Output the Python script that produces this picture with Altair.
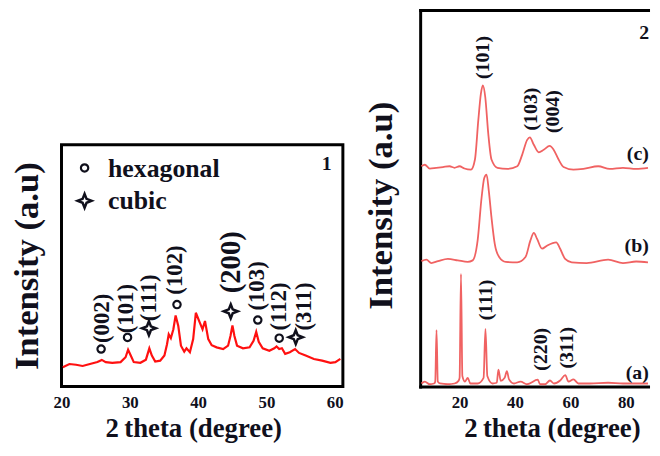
import altair as alt
import pandas as pd

FONT = "Liberation Serif"
INK = "#10101c"
RED1 = "#ff1010"
RED2 = "#f06262"
STAR = "M0,-1L0.28,-0.28L1,0L0.28,0.28L0,1L-0.28,0.28L-1,0L-0.28,-0.28Z"

# ---------------- panel 1 : XRD pattern ----------------
p1_theta = [20.19, 21.16, 22.13, 23.09, 24.30, 25.26, 25.90, 26.48, 27.43, 28.65,
            29.38, 29.75, 30.14, 30.58, 31.55, 32.36, 32.86, 33.23, 33.72, 34.45,
            35.07, 35.45, 35.70, 36.01, 36.38, 36.71, 37.10, 37.49, 37.97, 38.30,
            38.80, 39.28, 39.67, 40.25, 40.65, 41.01, 41.49, 41.99, 42.71, 43.67,
            44.39, 44.74, 45.03, 45.32, 45.70, 46.57, 47.54, 48.12, 48.51, 48.88,
            49.46, 50.43, 51.16, 51.49, 51.88, 52.27, 52.75, 53.43, 54.20, 54.78,
            55.75, 56.96, 58.16, 59.38, 60.10, 60.83]
p1_int = [8.0, 9.3, 9.0, 8.5, 9.4, 10.1, 11.0, 10.1, 9.8, 10.1,
          12.1, 15.2, 12.8, 10.1, 9.8, 11.1, 15.8, 12.8, 10.3, 10.7,
          12.8, 17.5, 21.6, 20.0, 23.7, 29.4, 25.0, 16.9, 14.4, 15.8,
          14.2, 19.6, 30.5, 26.4, 23.7, 27.1, 19.6, 17.1, 16.2, 15.5,
          16.9, 20.9, 25.3, 20.9, 16.9, 15.8, 16.2, 18.9, 22.6, 18.5,
          15.8, 14.8, 15.8, 16.6, 15.5, 15.8, 13.5, 14.2, 15.5, 13.9,
          12.8, 11.4, 10.7, 9.8, 10.1, 11.4]

p1_hkl = ["(002)", "(101)", "(111)", "(102)", "(200)", "(103)", "(112)", "(311)"]
p1_phase = ["hexagonal", "hexagonal", "cubic", "hexagonal", "cubic",
            "hexagonal", "hexagonal", "cubic"]
p1_mark_theta = [25.80, 29.67, 32.80, 36.91, 44.78, 48.74, 51.88, 54.30]
p1_mark_int = [15.5, 20.3, 24.1, 33.9, 31.1, 27.5, 20.0, 20.4]
p1_lab_theta = [25.87, 29.49, 32.83, 36.67, 44.78, 48.70, 51.88, 55.51]
p1_lab_int = [28.2, 32.2, 36.7, 48.2, 51.4, 41.6, 33.1, 33.1]

legend_phase = ["hexagonal", "cubic"]
legend_theta = [23.38, 23.38]
legend_int = [90.4, 76.8]
legend_text_theta = [26.81, 26.81]
legend_text_int = [89.9, 76.8]

panel_tags = ["1", "2"]
tag_theta = [58.84, 86.6]
tag_int = [92.2, 94.0]

# ---------------- panel 2 : three patterns ----------------
c_theta = [6.26, 7.47, 9.26, 11.62, 14.02, 16.41, 18.20, 19.99, 21.77, 24.13,
           25.56, 26.78, 27.71, 28.42, 29.28, 30.35, 31.53, 33.68, 37.25, 40.83,
           42.62, 44.41, 45.37, 46.80, 48.59, 50.38, 52.52, 53.95, 55.74, 57.53,
           61.10, 64.68, 70.04, 74.19, 78.98, 83.73, 88.0]
c_int = [58.5, 58.9, 57.9, 58.1, 58.3, 58.5, 58.1, 58.5, 57.9, 57.6,
         60.3, 70.8, 77.8, 80.0, 76.9, 67.3, 60.3, 58.1, 57.8, 58.5,
         61.6, 65.5, 66.2, 64.2, 62.2, 62.9, 63.9, 62.9, 60.3, 58.3,
         57.6, 57.8, 58.5, 57.8, 58.1, 57.8, 58.1]

b_theta = [6.26, 8.04, 9.83, 12.23, 15.80, 19.38, 22.95, 24.74, 26.53, 27.96,
           28.92, 29.75, 30.57, 31.53, 32.71, 34.29, 36.65, 40.83, 43.80, 45.58,
           46.80, 47.98, 49.77, 51.56, 54.88, 56.31, 58.10, 60.49, 65.86, 73.61,
           78.98, 83.73, 88.0]
b_int = [33.3, 33.7, 32.8, 33.3, 33.9, 33.5, 33.1, 33.5, 38.8, 50.2,
         55.4, 56.3, 51.9, 44.9, 37.9, 34.4, 33.1, 33.0, 34.4, 38.8,
         40.8, 39.2, 36.6, 37.4, 38.3, 36.6, 33.9, 33.0, 32.8, 33.7,
         32.8, 33.2, 33.0]

a_theta = [6.26, 7.47, 9.26, 10.80, 11.23, 11.69, 12.16, 12.94, 15.80, 18.20,
           19.63, 20.02, 20.52, 21.02, 21.99, 22.95, 23.92, 26.53, 28.67, 29.35,
           30.03, 31.89, 33.43, 34.04, 34.86, 36.29, 37.08, 37.86, 39.65, 42.01,
           44.40, 48.23, 49.05, 50.84, 52.63, 54.06, 56.31, 58.17, 59.31, 61.10,
           62.89, 67.04, 73.61, 78.98, 88.0]
a_int = [0.8, 1.3, 0.6, 0.8, 1.3, 15.0, 1.3, 0.8, 0.6, 0.8,
         1.5, 2.3, 29.9, 2.8, 1.3, 2.3, 0.8, 0.8, 2.3, 15.3,
         2.8, 0.8, 1.0, 4.5, 1.5, 2.3, 4.1, 1.9, 0.8, 1.3,
         0.6, 1.8, 0.6, 0.6, 1.6, 0.8, 1.6, 3.0, 1.3, 1.9,
         0.8, 0.8, 1.0, 0.8, 0.8]

p2_hkl = ["(101)", "(103)", "(004)", "(111)", "(220)", "(311)"]
p2_lab_theta = [28.42, 45.73, 53.77, 29.64, 49.30, 58.71]
p2_lab_int = [87.4, 73.7, 73.0, 23.0, 9.9, 10.3]
p2_series = ["(c)", "(b)", "(a)"]
p2_series_theta = [88.3, 88.3, 88.3]
p2_series_int = [61.8, 37.2, 3.5]

# ---------------- shared styling helpers ----------------
def tick_axis(values, title, title_x, **extra):
    return alt.Axis(values=values, format="d", labelFlush=False, labelOverlap=False,
                    labelFont=FONT, labelFontSize=17, labelFontWeight="bold",
                    labelColor=INK, labelPadding=8, ticks=False, tickSize=0,
                    grid=False, title=title, titleFont=FONT, titleFontSize=27,
                    titleFontWeight="bold", titleColor=INK, titlePadding=5,
                    titleX=title_x, **extra)

def int_axis(pad, **extra):
    return alt.Axis(labels=False, ticks=False, tickSize=0, grid=False,
                    title="Intensity (a.u)", titleFont=FONT, titleFontSize=35,
                    titleFontWeight="bold", titleColor=INK, titlePadding=pad, **extra)

# ---------------- panel 1 ----------------
x1_scale = alt.Scale(domain=[20, 61.2], nice=False, zero=False)
y1_scale = alt.Scale(domain=[0, 100], nice=False, zero=False)
X1 = alt.X("theta:Q", scale=x1_scale,
           axis=tick_axis([20, 30, 40, 50, 60], "2\u2009theta (degree)", 133, domain=False))
Y1 = alt.Y("intensity:Q", scale=y1_scale, axis=int_axis(17, domain=False))

df1 = pd.DataFrame({"theta": p1_theta, "intensity": p1_int})
dfm = pd.DataFrame({"theta": p1_mark_theta, "intensity": p1_mark_int,
                    "phase": p1_phase, "hkl": p1_hkl})
dfl = pd.DataFrame({"theta": p1_lab_theta, "intensity": p1_lab_int, "hkl": p1_hkl})
dflg = pd.DataFrame({"theta": legend_theta, "intensity": legend_int, "phase": legend_phase})
dflt = pd.DataFrame({"theta": legend_text_theta, "intensity": legend_text_int,
                     "phase": legend_phase})
dftag = pd.DataFrame({"theta": tag_theta, "intensity": tag_int, "tag": panel_tags})

line1 = alt.Chart(df1).mark_line(color=RED1, strokeWidth=2.2).encode(x=X1, y=Y1)

def circles(df):
    return (alt.Chart(df).transform_filter(alt.datum.phase == "hexagonal")
            .mark_point(shape="circle", filled=False, color=INK, strokeWidth=2.2,
                        size=55, opacity=1).encode(x=X1, y=Y1))

def stars(df):
    return (alt.Chart(df).transform_filter(alt.datum.phase == "cubic")
            .mark_point(shape=STAR, filled=False, color=INK, strokeWidth=2.5,
                        size=200, opacity=1).encode(x=X1, y=Y1))

lab1 = (alt.Chart(dfl).transform_filter(alt.datum.hkl != "(200)")
        .mark_text(angle=270, font=FONT, fontSize=23, fontWeight="bold", color=INK,
                   align="center", baseline="middle")
        .encode(x=X1, y=Y1, text="hkl:N"))
lab1b = (alt.Chart(dfl).transform_filter(alt.datum.hkl == "(200)")
         .mark_text(angle=270, font=FONT, fontSize=29, fontWeight="bold", color=INK,
                    align="center", baseline="middle")
         .encode(x=X1, y=Y1, text="hkl:N"))
leg_t = (alt.Chart(dflt).mark_text(font=FONT, fontSize=26, fontWeight="bold", color=INK,
                                   align="left", baseline="middle")
         .encode(x=X1, y=Y1, text="phase:N"))
tag1 = (alt.Chart(dftag).transform_filter(alt.datum.tag == "1")
        .mark_text(font=FONT, fontSize=20, fontWeight="bold", color=INK,
                   align="center", baseline="middle")
        .encode(x=X1, y=Y1, text="tag:N"))

panel1 = alt.layer(line1, circles(dfm), stars(dfm), lab1, lab1b,
                   circles(dflg), stars(dflg), leg_t, tag1).properties(
    width=284, height=244,
    view=alt.ViewBackground(stroke="black", strokeWidth=3))

spacer = alt.Chart(pd.DataFrame({"v": [0]})).mark_point(opacity=0).properties(
    width=284, height=134, view=alt.ViewBackground(strokeOpacity=0))

left = alt.vconcat(spacer, panel1, spacing=0)

# ---------------- panel 2 ----------------
x2_scale = alt.Scale(domain=[5.79, 88.02], nice=False, zero=False)
y2_scale = alt.Scale(domain=[0, 100], nice=False, zero=False)
frame = dict(domain=True, domainColor="black", domainWidth=3, domainCap="square")
X2 = alt.X("theta:Q", scale=x2_scale,
           axis=tick_axis([20, 40, 60, 80], "2\u2009theta (degree)", 133, **frame))
X2top = alt.X("theta:Q", scale=x2_scale,
              axis=alt.Axis(orient="top", labels=False, ticks=False, tickSize=0,
                            grid=False, title=None, **frame))
X2n = alt.X("theta:Q", scale=x2_scale, axis=None)
Y2 = alt.Y("intensity:Q", scale=y2_scale, axis=int_axis(22, titleY=197, **frame))

df2 = pd.concat([
    pd.DataFrame({"theta": c_theta, "intensity": c_int, "pattern": "c"}),
    pd.DataFrame({"theta": b_theta, "intensity": b_int, "pattern": "b"}),
    pd.DataFrame({"theta": a_theta, "intensity": a_int, "pattern": "a"}),
], ignore_index=True)
dfl2 = pd.DataFrame({"theta": p2_lab_theta, "intensity": p2_lab_int, "hkl": p2_hkl})
dfs2 = pd.DataFrame({"theta": p2_series_theta, "intensity": p2_series_int,
                     "series": p2_series})

line2 = (alt.Chart(df2).mark_line(color=RED2, strokeWidth=1.8, interpolate="monotone")
         .encode(x=X2, y=Y2, detail="pattern:N"))
lab2 = (alt.Chart(dfl2).mark_text(angle=270, font=FONT, fontSize=20, fontWeight="bold",
                                  color=INK, align="center", baseline="middle")
        .encode(x=X2n, y=Y2, text="hkl:N"))
ser2 = (alt.Chart(dfs2).mark_text(font=FONT, fontSize=20, fontWeight="bold", color=INK,
                                  align="right", baseline="middle")
        .encode(x=X2n, y=Y2, text="series:N"))
tag2 = (alt.Chart(dftag).transform_filter(alt.datum.tag == "2")
        .mark_text(font=FONT, fontSize=20, fontWeight="bold", color=INK,
                   align="center", baseline="middle")
        .encode(x=X2top, y=Y2, text="tag:N"))

panel2 = alt.layer(line2, lab2, ser2, tag2).resolve_axis(x="independent").properties(
    width=230, height=380, view=alt.ViewBackground(strokeOpacity=0))

chart = alt.hconcat(left, panel2, spacing=17).properties(padding=0, background="white")

chart.save("out.html", embed_options={"renderer": "svg", "actions": False})
